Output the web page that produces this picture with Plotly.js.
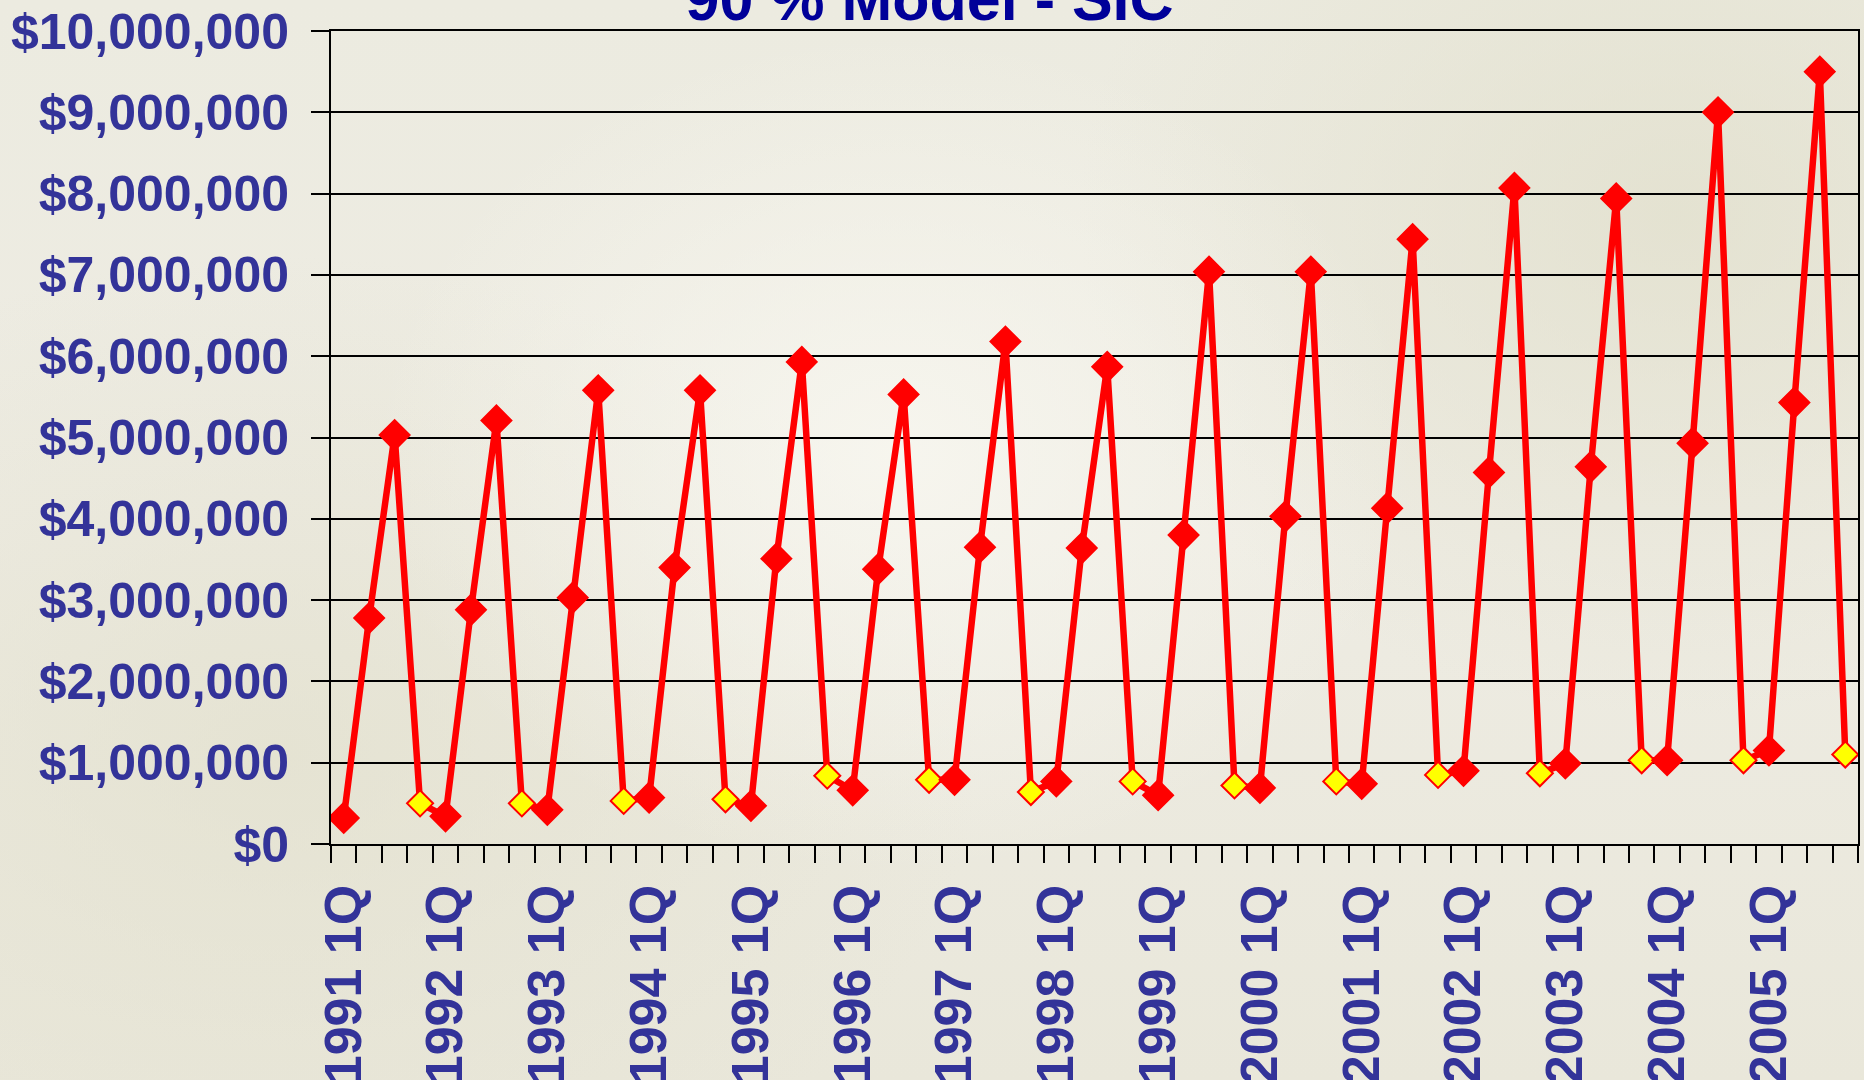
<!DOCTYPE html>
<html>
<head>
<meta charset="utf-8">
<script src="https://cdn.plot.ly/plotly-3.0.1.min.js"></script>
<style>
  html, body { margin:0; padding:0; width:1864px; height:1080px; overflow:hidden; }
  body {
    background:
      radial-gradient(ellipse 520px 420px at 48% 42%, rgba(248,247,240,0.85) 0%, rgba(248,247,240,0) 100%),
      radial-gradient(ellipse 700px 500px at 15% 70%, rgba(226,224,205,0.7) 0%, rgba(226,224,205,0) 100%),
      radial-gradient(ellipse 600px 500px at 90% 20%, rgba(224,222,202,0.7) 0%, rgba(224,222,202,0) 100%),
      linear-gradient(180deg, #ecebe0 0%, #eeece3 50%, #e9e7da 100%);
  }
  #chart { width:1864px; height:1080px; }
</style>
</head>
<body>
<div id="chart"></div>
<script>
const years = [1991,1992,1993,1994,1995,1996,1997,1998,1999,2000,2001,2002,2003,2004,2005];
const quarters = ["1Q","2Q","3Q","4Q"];
const categories = [];
years.forEach(y => quarters.forEach(q => categories.push(y + " " + q)));

// Quarterly values, in dollars
const values = [
  320000, 2780000, 5030000, 500000,    // 1991
  340000, 2880000, 5210000, 500000,    // 1992
  420000, 3030000, 5580000, 530000,    // 1993
  570000, 3400000, 5580000, 550000,    // 1994
  470000, 3510000, 5930000, 840000,    // 1995
  660000, 3380000, 5530000, 790000,    // 1996
  790000, 3650000, 6180000, 640000,    // 1997
  770000, 3640000, 5870000, 770000,    // 1998
  600000, 3800000, 7040000, 720000,    // 1999
  690000, 4030000, 7040000, 770000,    // 2000
  740000, 4130000, 7440000, 850000,    // 2001
  900000, 4570000, 8070000, 870000,    // 2002
  990000, 4640000, 7940000, 1030000,   // 2003
  1030000, 4930000, 9000000, 1030000,  // 2004
  1150000, 5430000, 9500000, 1100000   // 2005
];

const yTicks = [0,1000000,2000000,3000000,4000000,5000000,6000000,7000000,8000000,9000000,10000000];
const yTickLabels = ["$0","$1,000,000","$2,000,000","$3,000,000","$4,000,000","$5,000,000",
                     "$6,000,000","$7,000,000","$8,000,000","$9,000,000","$10,000,000"];
const xTickLabels = categories.filter((c, i) => i % 4 === 0);

const xIdx = categories.map((c, i) => i);
const xLabelPos = xIdx.filter(i => i % 4 === 0);
const boundaries = [];
for (let i = 0; i <= categories.length; i++) boundaries.push(i - 0.5);

const markerColors = categories.map(c => c.endsWith("4Q") ? "#FFFF00" : "#FF0000");
const markerSizes = categories.map(c => c.endsWith("4Q") ? 20 : 23);

const trace = {
  type: "scatter",
  mode: "lines+markers",
  x: xIdx,
  y: values,
  text: categories,
  line: { color: "#FF0000", width: 6.5 },
  marker: {
    symbol: "diamond",
    size: markerSizes,
    color: markerColors,
    opacity: 1,
    line: { color: "#FF0000", width: 2 }
  },
  hoverinfo: "text+y"
};

const labelFont = { family: "Liberation Sans, Arial, sans-serif", size: 50, color: "#333399", weight: "bold" };

const layout = {
  width: 1864,
  height: 1080,
  paper_bgcolor: "rgba(0,0,0,0)",
  plot_bgcolor: "rgba(0,0,0,0)",
  showlegend: false,
  margin: { l: 331, r: 6, t: 31, b: 236, pad: 0 },
  title: {
    text: "90 % Model - SIC",
    font: { family: "Liberation Sans, Arial, sans-serif", size: 61, color: "#000099", weight: "bold" },
    x: 0.4987, xref: "container", xanchor: "center",
    y: 1 - 20/1080, yref: "container", yanchor: "bottom"
  },
  xaxis: {
    type: "linear",
    range: [-0.5, categories.length - 0.5],
    tickmode: "array",
    tickvals: xLabelPos,
    ticktext: xTickLabels,
    tickangle: -90,
    ticks: "outside",
    ticklen: 18,
    tickcolor: "rgba(0,0,0,0)",
    tickfont: Object.assign({}, labelFont, { size: 52 }),
    showgrid: false,
    zeroline: false,
    showline: true,
    linecolor: "#000",
    linewidth: 2,
    mirror: true,
    minor: {
      tickmode: "array",
      tickvals: boundaries,
      ticks: "outside",
      ticklen: 17,
      tickwidth: 2,
      tickcolor: "#000",
      showgrid: false
    },
    fixedrange: true
  },
  yaxis: {
    range: [0, 10000000],
    tickmode: "array",
    tickvals: yTicks,
    ticktext: yTickLabels,
    ticks: "outside",
    ticklen: 18,
    tickwidth: 2,
    tickcolor: "#000",
    ticklabelstandoff: 12,
    tickfont: labelFont,
    showgrid: true,
    gridcolor: "#000",
    gridwidth: 2,
    zeroline: false,
    showline: true,
    linecolor: "#000",
    linewidth: 2,
    mirror: true,
    fixedrange: true
  }
};

Plotly.newPlot("chart", [trace], layout, { displayModeBar: false, staticPlot: true });
</script>
</body>
</html>
